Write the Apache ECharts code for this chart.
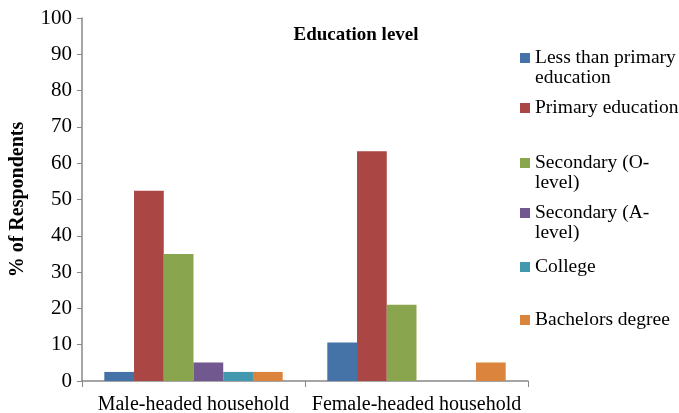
<!DOCTYPE html>
<html><head><meta charset="utf-8">
<script src="https://cdn.jsdelivr.net/npm/echarts@6/dist/echarts.min.js"></script>
<style>html,body{margin:0;padding:0;background:#fff}#c{width:679px;height:413px}</style>
</head><body><div id="c"></div>
<script>
var categories = ['Male-headed household', 'Female-headed household'];
var seriesNames = ['Less than primary education', 'Primary education', 'Secondary (O-level)', 'Secondary (A-level)', 'College', 'Bachelors degree'];
var legendFirstLines = ['Less than primary', 'Primary education', 'Secondary (O-', 'Secondary (A-', 'College', 'Bachelors degree'];
var legendSecondLines = ['education', '', 'level)', 'level)', '', ''];
var lessThanPrimary = [2.5, 10.6];
var primary = [52.4, 63.3];
var secondaryO = [35.0, 21.0];
var secondaryA = [5.1, 0];
var college = [2.5, 0];
var bachelors = [2.5, 5.1];
var yTicks = [0, 10, 20, 30, 40, 50, 60, 70, 80, 90, 100];

var colors = ['#4572A7', '#AA4643', '#89A54E', '#71588F', '#4198AF', '#DB843D'];
var values = [lessThanPrimary, primary, secondaryO, secondaryA, college, bachelors];
var legendCenters = [58, 108, 163, 213, 267, 320];
var font = '"Liberation Serif", "Times New Roman", serif';
var legendFontSize = 19.5;

var series = seriesNames.map(function (n, i) {
  return {
    name: n, type: 'bar', data: values[i],
    barGap: '0%', barCategoryGap: '20%',
    itemStyle: { color: colors[i] }
  };
});
var legends = seriesNames.map(function (n, i) {
  return {
    data: [n], left: 520, top: legendCenters[i] - 10, orient: 'vertical', padding: 0,
    itemWidth: 10, itemHeight: 10, icon: 'rect',
    formatter: function () { return legendFirstLines[i]; },
    textStyle: { fontFamily: font, fontSize: legendFontSize, color: '#000', lineHeight: 20 }
  };
});
var graphics = [];
legendSecondLines.forEach(function (t, i) {
  if (t) {
    graphics.push({
      type: 'text', left: 535, top: legendCenters[i] + 10,
      style: { text: t, font: legendFontSize + 'px ' + font, fill: '#000' }
    });
  }
});

var chart = echarts.init(document.getElementById('c'));
chart.setOption({
  animation: false,
  color: colors,
  title: {
    text: 'Education level', left: 351, top: 21, textAlign: 'center',
    textStyle: { fontFamily: font, fontSize: 19, fontWeight: 'bold', color: '#000' }
  },
  legend: legends,
  graphic: graphics,
  grid: { left: 82, right: 151, top: 18, bottom: 32, containLabel: false, outerBoundsMode: 'none' },
  xAxis: {
    type: 'category', data: categories,
    axisLine: { lineStyle: { color: '#888', width: 1.5 } },
    axisTick: { show: true, alignWithLabel: false, length: 6, lineStyle: { color: '#888' } },
    axisLabel: { fontFamily: font, fontSize: 20, color: '#000', margin: 14, interval: 0 }
  },
  yAxis: {
    type: 'value', min: yTicks[0], max: yTicks[yTicks.length - 1], interval: 10,
    name: '% of Respondents', nameLocation: 'middle', nameGap: 54,
    nameTextStyle: { fontFamily: font, fontSize: 20, fontWeight: 'bold', color: '#000' },
    axisLine: { show: true, lineStyle: { color: '#888', width: 1.5 } },
    axisTick: { show: true, inside: false, length: 5, lineStyle: { color: '#888' } },
    splitLine: { show: false },
    axisLabel: { fontFamily: font, fontSize: 21, color: '#000', margin: 10 }
  },
  series: series
});
</script></body></html>
